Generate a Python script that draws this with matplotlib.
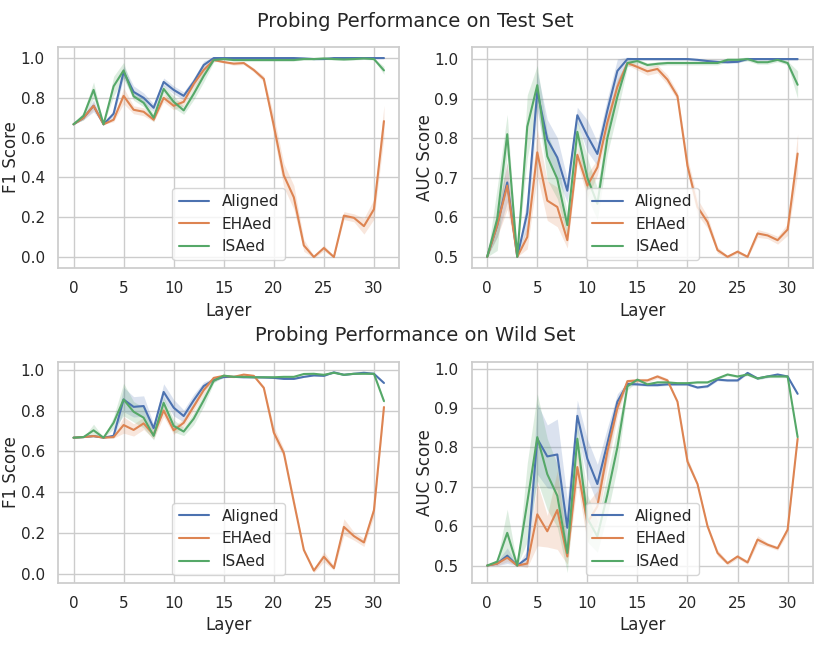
import numpy as np
import matplotlib.pyplot as plt
import seaborn as sns

sns.set_theme(style="whitegrid")
plt.rcParams['font.family'] = ['DejaVu Sans']

layers = np.arange(32)
names = ["Aligned", "EHAed", "ISAed"]

# ---- Test set, F1
test_f1_aligned = [0.667, 0.70, 0.76, 0.667, 0.72, 0.93, 0.83, 0.80, 0.75, 0.88, 0.84, 0.81, 0.88, 0.965, 1.0, 1.0,
                   1.0, 1.0, 1.0, 1.0, 1.0, 1.0, 1.0, 0.998, 0.995, 0.995, 1.0, 1.0, 1.0, 1.0, 1.0, 1.0]
test_f1_eha = [0.667, 0.70, 0.76, 0.667, 0.69, 0.81, 0.74, 0.73, 0.69, 0.80, 0.76, 0.78, 0.87, 0.94, 0.99, 0.98,
               0.972, 0.975, 0.94, 0.895, 0.66, 0.41, 0.30, 0.058, 0.0, 0.045, 0.0, 0.208, 0.197, 0.155, 0.24, 0.683]
test_f1_isa = [0.667, 0.71, 0.84, 0.667, 0.858, 0.938, 0.808, 0.775, 0.70, 0.845, 0.78, 0.737, 0.82, 0.91, 0.99, 0.995,
               0.99, 0.99, 0.99, 0.99, 0.99, 0.99, 0.99, 0.995, 0.995, 0.998, 0.995, 0.993, 0.995, 0.998, 0.995, 0.938]
test_f1_aligned_err = [0, 0.01, 0.03, 0, 0.02, 0.03, 0.03, 0.025, 0.02, 0.02, 0.02, 0.02, 0.02, 0.02, 0.005, 0.003,
                       0.003, 0.003, 0.003, 0.003, 0.003, 0.003, 0.003, 0.003, 0.003, 0.003, 0.003, 0.003, 0.003, 0.003, 0.003, 0.002]
test_f1_eha_err = [0, 0.01, 0.02, 0, 0.01, 0.04, 0.02, 0.02, 0.01, 0.02, 0.02, 0.02, 0.02, 0.02, 0.005, 0.005,
                   0.008, 0.008, 0.01, 0.015, 0.05, 0.06, 0.06, 0.03, 0.005, 0.015, 0.005, 0.02, 0.02, 0.04, 0.05, 0.08]
test_f1_isa_err = [0, 0.02, 0.04, 0, 0.05, 0.04, 0.02, 0.02, 0.02, 0.02, 0.03, 0.02, 0.03, 0.03, 0.01, 0.005,
                   0.005, 0.005, 0.005, 0.005, 0.005, 0.005, 0.005, 0.005, 0.005, 0.005, 0.005, 0.005, 0.005, 0.005, 0.005, 0.02]

# ---- Test set, AUC
test_auc_aligned = [0.5, 0.58, 0.688, 0.5, 0.611, 0.919, 0.797, 0.751, 0.667, 0.858, 0.806, 0.76, 0.87, 0.97, 1.0, 1.0,
                    1.0, 1.0, 1.0, 1.0, 1.0, 0.998, 0.995, 0.993, 0.992, 0.993, 1.0, 1.0, 1.0, 1.0, 1.0, 1.0]
test_auc_eha = [0.5, 0.58, 0.68, 0.5, 0.55, 0.764, 0.642, 0.626, 0.542, 0.758, 0.68, 0.726, 0.84, 0.93, 0.99, 0.98,
                0.969, 0.975, 0.948, 0.906, 0.73, 0.626, 0.588, 0.517, 0.5, 0.513, 0.5, 0.559, 0.554, 0.542, 0.569, 0.761]
test_auc_isa = [0.5, 0.596, 0.81, 0.5, 0.829, 0.934, 0.754, 0.697, 0.58, 0.816, 0.70, 0.634, 0.80, 0.905, 0.99, 0.995,
                0.985, 0.988, 0.99, 0.99, 0.99, 0.99, 0.99, 0.99, 0.998, 0.998, 1.0, 0.992, 0.992, 0.998, 0.99, 0.935]
test_auc_aligned_err = [0, 0.03, 0.05, 0, 0.04, 0.05, 0.05, 0.05, 0.03, 0.02, 0.04, 0.03, 0.03, 0.03, 0.005, 0.003,
                        0.003, 0.003, 0.003, 0.003, 0.003, 0.003, 0.003, 0.003, 0.003, 0.003, 0.003, 0.003, 0.003, 0.003, 0.003, 0.003]
test_auc_eha_err = [0, 0.03, 0.06, 0, 0.03, 0.06, 0.05, 0.05, 0.02, 0.02, 0.03, 0.02, 0.02, 0.02, 0.005, 0.008,
                    0.01, 0.01, 0.012, 0.01, 0.02, 0.02, 0.015, 0.008, 0.003, 0.005, 0.003, 0.01, 0.008, 0.01, 0.015, 0.05]
test_auc_isa_err = [0, 0.08, 0.05, 0, 0.08, 0.05, 0.06, 0.05, 0.03, 0.03, 0.05, 0.04, 0.04, 0.04, 0.01, 0.005,
                    0.005, 0.005, 0.005, 0.005, 0.005, 0.005, 0.005, 0.005, 0.005, 0.005, 0.005, 0.005, 0.005, 0.005, 0.005, 0.035]

# ---- Wild set, F1
wild_f1_aligned = [0.667, 0.67, 0.675, 0.667, 0.676, 0.854, 0.818, 0.822, 0.713, 0.891, 0.814, 0.773, 0.85, 0.92, 0.95, 0.964,
                   0.965, 0.963, 0.963, 0.962, 0.96, 0.955, 0.955, 0.965, 0.972, 0.97, 0.987, 0.975, 0.98, 0.985, 0.98, 0.935]
wild_f1_eha = [0.667, 0.67, 0.675, 0.667, 0.67, 0.729, 0.705, 0.737, 0.681, 0.80, 0.703, 0.74, 0.82, 0.90, 0.96, 0.97,
               0.965, 0.976, 0.97, 0.911, 0.692, 0.592, 0.352, 0.117, 0.016, 0.084, 0.028, 0.23, 0.185, 0.154, 0.311, 0.817]
wild_f1_isa = [0.667, 0.67, 0.703, 0.667, 0.74, 0.854, 0.794, 0.765, 0.676, 0.838, 0.725, 0.697, 0.76, 0.85, 0.945, 0.971,
               0.965, 0.965, 0.963, 0.963, 0.963, 0.965, 0.965, 0.979, 0.98, 0.975, 0.985, 0.975, 0.98, 0.98, 0.98, 0.846]
wild_f1_aligned_err = [0, 0, 0.005, 0, 0.01, 0.06, 0.05, 0.05, 0.02, 0.04, 0.04, 0.03, 0.03, 0.02, 0.01, 0.003,
                       0.003, 0.003, 0.003, 0.003, 0.003, 0.003, 0.003, 0.003, 0.003, 0.003, 0.003, 0.003, 0.003, 0.003, 0.003, 0.003]
wild_f1_eha_err = [0, 0, 0.005, 0, 0.005, 0.04, 0.03, 0.03, 0.02, 0.03, 0.02, 0.02, 0.02, 0.02, 0.005, 0.005,
                   0.005, 0.005, 0.005, 0.01, 0.03, 0.02, 0.02, 0.01, 0.01, 0.025, 0.01, 0.04, 0.02, 0.02, 0.03, 0.02]
wild_f1_isa_err = [0, 0, 0.03, 0, 0.03, 0.08, 0.05, 0.05, 0.02, 0.03, 0.03, 0.02, 0.03, 0.03, 0.01, 0.003,
                   0.003, 0.003, 0.003, 0.003, 0.003, 0.003, 0.003, 0.003, 0.003, 0.003, 0.003, 0.003, 0.003, 0.003, 0.003, 0.01]

# ---- Wild set, AUC
wild_auc_aligned = [0.5, 0.505, 0.525, 0.5, 0.519, 0.822, 0.777, 0.782, 0.596, 0.88, 0.771, 0.707, 0.81, 0.916, 0.961, 0.96,
                    0.958, 0.958, 0.96, 0.96, 0.96, 0.952, 0.955, 0.972, 0.97, 0.97, 0.989, 0.975, 0.98, 0.985, 0.98, 0.936]
wild_auc_eha = [0.5, 0.505, 0.52, 0.5, 0.505, 0.63, 0.587, 0.641, 0.523, 0.75, 0.609, 0.65, 0.79, 0.90, 0.968, 0.97,
                0.97, 0.98, 0.97, 0.916, 0.764, 0.707, 0.60, 0.532, 0.506, 0.523, 0.508, 0.566, 0.553, 0.544, 0.591, 0.822]
wild_auc_isa = [0.5, 0.51, 0.583, 0.5, 0.66, 0.826, 0.732, 0.677, 0.532, 0.822, 0.62, 0.574, 0.68, 0.80, 0.955, 0.972,
                0.96, 0.965, 0.965, 0.963, 0.963, 0.965, 0.965, 0.975, 0.985, 0.98, 0.985, 0.975, 0.98, 0.98, 0.98, 0.826]
wild_auc_aligned_err = [0, 0.005, 0.02, 0, 0.02, 0.09, 0.08, 0.09, 0.07, 0.04, 0.05, 0.05, 0.04, 0.02, 0.005, 0.003,
                        0.003, 0.003, 0.003, 0.003, 0.003, 0.003, 0.003, 0.003, 0.003, 0.003, 0.003, 0.003, 0.003, 0.003, 0.003, 0.003]
wild_auc_eha_err = [0, 0.005, 0.01, 0, 0.01, 0.08, 0.04, 0.1, 0.02, 0.04, 0.05, 0.04, 0.04, 0.02, 0.005, 0.005,
                    0.005, 0.005, 0.005, 0.005, 0.01, 0.005, 0.005, 0.008, 0.005, 0.005, 0.005, 0.01, 0.005, 0.005, 0.01, 0.005]
wild_auc_isa_err = [0, 0.005, 0.06, 0, 0.1, 0.11, 0.09, 0.08, 0.05, 0.04, 0.06, 0.04, 0.05, 0.05, 0.01, 0.003,
                    0.003, 0.003, 0.003, 0.003, 0.003, 0.003, 0.003, 0.003, 0.003, 0.003, 0.003, 0.003, 0.003, 0.003, 0.003, 0.003]

panels = [
    ([0.0699, 0.5851, 0.4114, 0.3421], "F1 Score",
     [test_f1_aligned, test_f1_eha, test_f1_isa], [test_f1_aligned_err, test_f1_eha_err, test_f1_isa_err]),
    ([0.5683, 0.5851, 0.4114, 0.3421], "AUC Score",
     [test_auc_aligned, test_auc_eha, test_auc_isa], [test_auc_aligned_err, test_auc_eha_err, test_auc_isa_err]),
    ([0.0699, 0.0980, 0.4114, 0.3421], "F1 Score",
     [wild_f1_aligned, wild_f1_eha, wild_f1_isa], [wild_f1_aligned_err, wild_f1_eha_err, wild_f1_isa_err]),
    ([0.5683, 0.0980, 0.4114, 0.3421], "AUC Score",
     [wild_auc_aligned, wild_auc_eha, wild_auc_isa], [wild_auc_aligned_err, wild_auc_eha_err, wild_auc_isa_err]),
]

colors = sns.color_palette("deep")

fig = plt.figure(figsize=(8.3, 6.46), dpi=100)
for rect, ylab, series, errs in panels:
    ax = fig.add_axes(rect)
    for name, c, y, e in zip(names, colors, series, errs):
        y = np.array(y)
        e = np.array(e)
        ax.plot(layers, y, color=c, lw=1.5, label=name)
        ax.fill_between(layers, y - e, y + e, color=c, alpha=0.2, lw=0)
    ax.set_xlabel("Layer", fontsize=12)
    ax.set_ylabel(ylab, fontsize=12)
    ax.yaxis.set_label_coords(-0.11, 0.5)
    ax.set_xticks([0, 5, 10, 15, 20, 25, 30])
    if ylab == "AUC Score":
        ax.set_yticks([0.5, 0.6, 0.7, 0.8, 0.9, 1.0])
    else:
        ax.set_yticks([0.0, 0.2, 0.4, 0.6, 0.8, 1.0])
    ax.tick_params(labelsize=11)
    ax.legend(loc="lower center", fontsize=11)

fig.text(0.5, 0.966, "Probing Performance on Test Set", ha="center", va="center", fontsize=14)
fig.text(0.5, 0.4814, "Probing Performance on Wild Set", ha="center", va="center", fontsize=14)

fig.savefig("out.png", dpi=100)
